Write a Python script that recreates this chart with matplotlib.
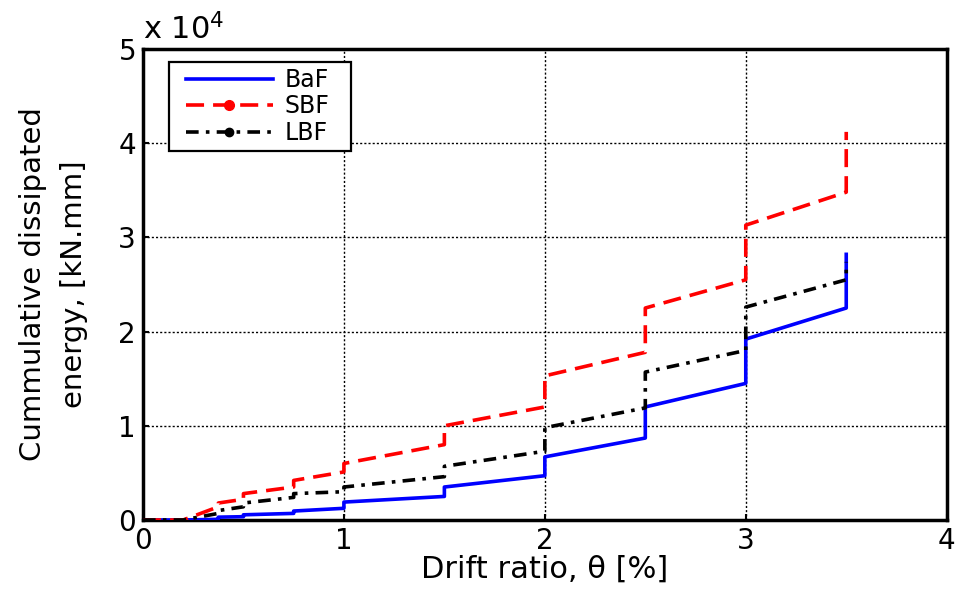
import matplotlib
matplotlib.use("Agg")
import matplotlib.pyplot as plt
from matplotlib.lines import Line2D
from matplotlib.legend_handler import HandlerLine2D
import numpy as np

# Drift ratio levels (%) where steps occur
drift_steps = [0.375, 0.5, 0.75, 1.0, 1.5, 2.0, 2.5, 3.0, 3.5]
start_drift = 0.2

# Cumulative dissipated energy (kN.mm) before / after each step
baf_before = [70, 350, 700, 1240, 2500, 4700, 8700, 14500, 22500]
baf_after  = [300, 550, 950, 1900, 3500, 6700, 12000, 19200, 28200]

sbf_before = [1400, 2200, 3500, 5100, 8000, 12000, 17800, 25500, 34800]
sbf_after  = [1800, 2800, 4200, 6000, 10000, 15300, 22500, 31300, 41200]

lbf_before = [700, 1400, 2400, 3000, 4600, 7300, 11900, 18000, 25500]
lbf_after  = [1000, 1800, 2800, 3500, 5700, 9800, 15700, 22600, 27400]

labels = ["BaF", "SBF", "LBF"]
xtick_labels = ["0", "1", "2", "3", "4"]
ytick_labels = ["0", "1", "2", "3", "4", "5"]


def build(before, after):
    xs = [0.0, start_drift]
    ys = [0.0, 0.0]
    for d, b, a in zip(drift_steps, before, after):
        xs += [d, d]
        ys += [b, a]
    return np.array(xs), np.array(ys)


class InsetHandler(HandlerLine2D):
    def get_xdata(self, legend, xdescent, ydescent, width, height, fontsize):
        x0 = -xdescent + 0.5 * fontsize
        x1 = -xdescent + width
        return np.array([x0, x1]), np.array([(x0 + x1) / 2])


font = "DejaVu Sans"
plt.rcParams["font.family"] = [font]

fig = plt.figure(figsize=(9.68, 6.01), dpi=100)
ax = fig.add_axes([0.1477, 0.1348, 0.978 - 0.1477, 0.9185 - 0.1348])

red_ls = (0, (5, 2.5))
blk_ls = (0, (3.5, 2, 1, 2))

x, y = build(baf_before, baf_after)
ax.plot(x, y, color="#0000ff", lw=2.6, ls="-", zorder=3)
x, y = build(sbf_before, sbf_after)
ax.plot(x, y, color="#ff0000", lw=2.6, ls=red_ls, zorder=4)
x, y = build(lbf_before, lbf_after)
ax.plot(x, y, color="black", lw=2.6, ls=blk_ls, zorder=5)

ax.set_xlim(0, 4)
ax.set_ylim(0, 50000)
ax.set_xticks([0, 1, 2, 3, 4])
ax.set_yticks([0, 10000, 20000, 30000, 40000, 50000])
ax.set_xticklabels(xtick_labels, fontsize=20)
ax.set_yticklabels(ytick_labels, fontsize=20)
ax.tick_params(direction="in", length=4, width=1.5, pad=5)

ax.grid(True, color="black", ls=(0, (1.5, 1.5)), lw=1.0)
for s in ax.spines.values():
    s.set_linewidth(2.5)

ax.text(0.0, 1.008, "x 10$^{4}$", transform=ax.transAxes, fontsize=22,
        ha="left", va="bottom")

ax.set_xlabel("Drift ratio, θ [%]", fontsize=22, labelpad=0)
ax.set_ylabel("Cummulative dissipated\nenergy, [kN.mm]", fontsize=21,
              labelpad=22, linespacing=1.6)

handles = [
    Line2D([], [], color="#0000ff", lw=2.6, ls="-"),
    Line2D([], [], color="#ff0000", lw=2.6, ls=red_ls, marker="o", markersize=7),
    Line2D([], [], color="black", lw=2.6, ls=blk_ls, marker="o", markersize=6),
]
leg = ax.legend(handles, labels, loc="upper left",
                bbox_to_anchor=(0.032, 0.772, 0.2264, 0.2), mode="expand",
                borderaxespad=0.0, prop={"size": 17}, fancybox=False,
                framealpha=1, edgecolor="black", handlelength=4.15,
                borderpad=0.25, labelspacing=0.1, handletextpad=0.5,
                handler_map={Line2D: InsetHandler()})
leg.get_frame().set_linewidth(1.6)

fig.savefig("out.png", dpi=100)
